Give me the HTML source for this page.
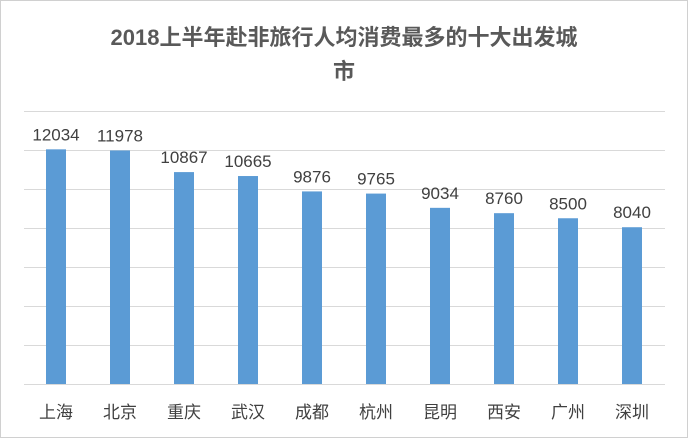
<!DOCTYPE html><html><head><meta charset="utf-8"><style>
body{margin:0;background:#fff}
</style></head><body>
<svg width="688" height="438" xmlns="http://www.w3.org/2000/svg" font-family="Liberation Sans, Noto Sans CJK SC, sans-serif">
<rect x="0.5" y="0.5" width="687" height="437" fill="#fff" stroke="#d0d0d0"/>
<text x="344" y="45" text-anchor="middle" font-size="22" font-weight="bold" fill="#595959">2018上半年赴非旅行人均消费最多的十大出发城</text>
<text x="344" y="79" text-anchor="middle" font-size="22" font-weight="bold" fill="#595959">市</text>
<g stroke="#d9d9d9" stroke-width="1">
<line x1="24" x2="665" y1="111.5" y2="111.5"/><line x1="24" x2="665" y1="150.5" y2="150.5"/>
<line x1="24" x2="665" y1="189.5" y2="189.5"/><line x1="24" x2="665" y1="228.5" y2="228.5"/>
<line x1="24" x2="665" y1="267.5" y2="267.5"/><line x1="24" x2="665" y1="306.5" y2="306.5"/>
<line x1="24" x2="665" y1="345.5" y2="345.5"/><line x1="24" x2="665" y1="384.5" y2="384.5"/>
</g>
<g fill="#5b9bd5" id="bars"></g>
<g id="lbl" font-size="17" fill="#404040" text-anchor="middle"></g>
</svg>
<script>
var v=[12034,11978,10867,10665,9876,9765,9034,8760,8500,8040],n=["上海","北京","重庆","武汉","成都","杭州","昆明","西安","广州","深圳"];
var b=document.getElementById('bars'),l=document.getElementById('lbl'),s="http://www.w3.org/2000/svg";
v.forEach(function(d,i){var c=56+64*i,h=d*273/14000,y=384-h;
var r=document.createElementNS(s,'rect');r.setAttribute('x',c-10);r.setAttribute('y',y);r.setAttribute('width',20);r.setAttribute('height',h);b.appendChild(r);
var t=document.createElementNS(s,'text');t.setAttribute('x',c);t.setAttribute('y',y-9);t.textContent=d;l.appendChild(t);
t=document.createElementNS(s,'text');t.setAttribute('x',c);t.setAttribute('y',418);t.textContent=n[i];l.appendChild(t);});
</script>
</body></html>
